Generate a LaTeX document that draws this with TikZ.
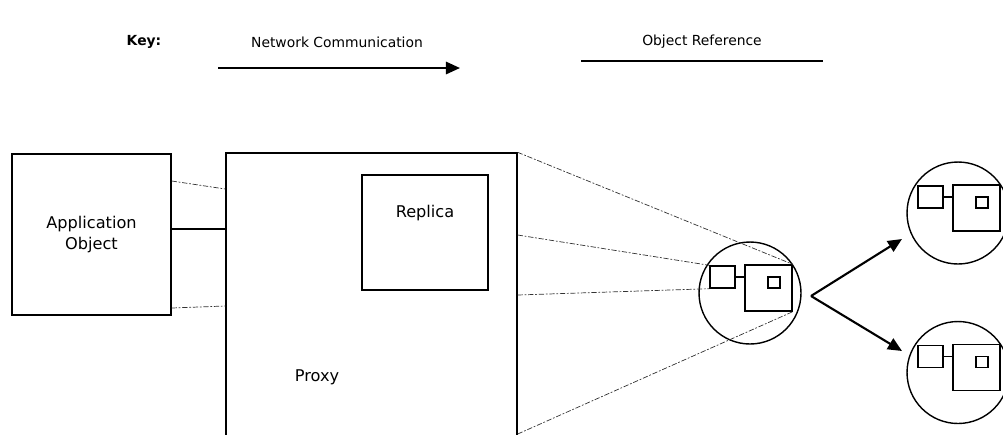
\documentclass[tikz,border=0pt]{standalone}
\usepackage{fontspec}
\setmainfont{DejaVu Sans}
\usetikzlibrary{arrows.meta}
\begin{document}
\begin{tikzpicture}[
    x = 0.02cm, y = -0.02cm,
    box/.style = {draw, thick, inner sep = 0pt},
    sq/.style = {draw, thick, inner sep = 0pt},
    ref/.style = {draw, thin, black!80, dash pattern = on 3pt off 1pt on 1pt off 1pt},
    net/.style = {draw, very thick, -{Triangle[length=8pt,width=7pt]}},
    keytxt/.style = {font = \fontsize{7.9}{9}\selectfont},
    txt/.style = {font = \fontsize{9.2}{11.5}\selectfont, align = center},
    site/.pic = {
      \node[circle, draw, thick, minimum size = 2.04cm, inner sep = 0pt] (-ring) at (0,0) {};
      \node[sq, minimum width = 0.50cm, minimum height = 0.44cm] (-small) at (-27.5,-16) {};
      \node[sq, minimum width = 0.94cm, minimum height = 0.92cm] (-big) at (18.5,-5) {};
      \node[sq, minimum width = 0.24cm, minimum height = 0.22cm] (-tiny) at (24,-10.5) {};
      \draw[thick] (-small) -- (-small -| -big.west);
    },
  ]
  \useasboundingbox (0,0) rectangle (1003,434);
  \clip (0,0) rectangle (1003,434);
  % key
  \node[keytxt, font = \fontsize{7.9}{9}\selectfont\bfseries] (key) at (144,42) {Key:};
  \node[keytxt] (netlbl) at (337,42) {Network Communication};
  \node[keytxt] (reflbl) at (702,42) {Object Reference};
  \coordinate (neta) at (218,68);
  \coordinate (netb) at (460,68);
  \coordinate (refa) at (581,61);
  \coordinate (refb) at (823,61);
  \draw[net] (neta) -- (netb);
  \draw[semithick] (refa) -- (refb);
  % application object and proxy
  \node[box, txt, minimum width = 3.18cm, minimum height = 3.22cm] (app) at (91.5,234.5) {Application\\Object};
  \node[box, minimum width = 5.82cm, minimum height = 6.34cm] (proxy) at (371.5,311.5) {};
  \node[txt] (proxylbl) at (317,377) {Proxy};
  \node[box, semithick, minimum width = 2.52cm, minimum height = 2.30cm,
    label = {[txt, anchor = center, yshift = -0.78cm]north:Replica}] (replica) at (425,232.5) {};
  \draw[ref] (app.east |- 0,181) -- (proxy.west |- 0,189);
  \draw[thick] (app.east |- 0,229) -- (proxy.west |- 0,229);
  \draw[ref] (app.east |- 0,308) -- (proxy.west |- 0,306);
  % replicas at the sites
  \pic (s1) at (750,293) {site};
  \pic (s2) at (958,213) {site};
  \pic (s3) at (958,372.5) {site};
  \draw[ref] (proxy.north east) -- (s1-big.north east);
  \draw[ref] (proxy.east |- 0,235) -- (s1-small.north west);
  \draw[ref] (proxy.east |- 0,295) -- (s1-small.south west);
  \draw[ref] (proxy.east |- 0,434) -- (s1-big.south east);
  \coordinate (fork) at (811,296);
  \coordinate (tip2) at (902,239);
  \coordinate (tip3) at (902,351);
  \draw[net] (fork) -- (tip2);
  \draw[net] (fork) -- (tip3);
\end{tikzpicture}
\end{document}
